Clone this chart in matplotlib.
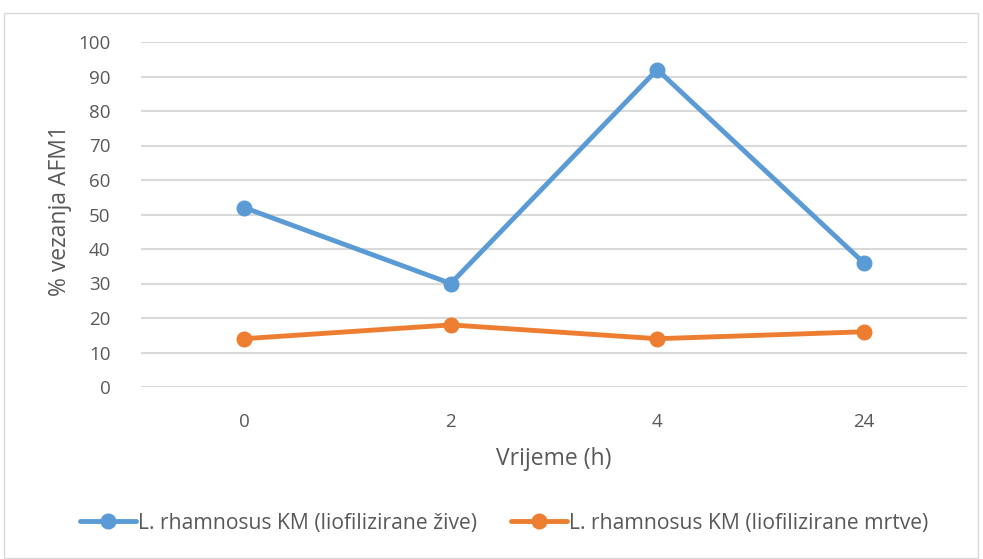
import matplotlib.pyplot as plt
from matplotlib.patches import Rectangle

# Data
categories = ["0", "2", "4", "24"]
zive = [52, 30, 92, 36]
mrtve = [14, 18, 14, 16]
y_ticks = list(range(0, 101, 10))

label_zive = "L. rhamnosus KM (liofilizirane žive)"
label_mrtve = "L. rhamnosus KM (liofilizirane mrtve)"

text_color = "#595959"
grid_color = "#d9d9d9"

plt.rcParams['font.family'] = ['Open Sans', 'DejaVu Sans']

fig = plt.figure(figsize=(9.83, 5.59), dpi=100)

# outer chart border
fig.patches.append(Rectangle((4 / 983, 0.002), 0.995 - 4 / 983, 1 - 13 / 559 - 0.002,
                             transform=fig.transFigure, fill=False,
                             edgecolor=grid_color, linewidth=1))

ax = fig.add_axes([141 / 983, 1 - 387 / 559, 826 / 983, 345 / 559])

x = range(len(categories))
ax.plot(x, zive, color="#5B9BD5", linewidth=3.5, marker="o", markersize=10.5,
        label=label_zive, solid_capstyle="round")
ax.plot(x, mrtve, color="#ED7D31", linewidth=3.5, marker="o", markersize=10.5,
        label=label_mrtve, solid_capstyle="round")

ax.set_xlim(-0.5, len(categories) - 0.5)
ax.set_ylim(0, 100)
ax.set_yticks(y_ticks)
ax.set_xticks(list(x))
ax.set_xticklabels(categories)
ax.yaxis.grid(True, color=grid_color, linewidth=1.5)
ax.set_axisbelow(True)
for s in ax.spines.values():
    s.set_visible(False)
ax.tick_params(length=0, labelsize=13.5, colors=text_color)
ax.tick_params(axis="x", pad=19)
ax.tick_params(axis="y", pad=22)

ax.set_xlabel("Vrijeme (h)", fontsize=16.5, color=text_color, labelpad=11)
ax.set_ylabel("% vezanja AFM1", fontsize=16.5, color=text_color)
ax.yaxis.set_label_coords(-0.083, 0.51)

fig.legend(loc="center", bbox_to_anchor=(0.513, 1 - 523 / 559), ncol=2,
           frameon=False, fontsize=15.2, labelcolor=text_color,
           handlelength=2.66, handletextpad=0.1, columnspacing=1.6)

fig.savefig("out.png", dpi=100)
